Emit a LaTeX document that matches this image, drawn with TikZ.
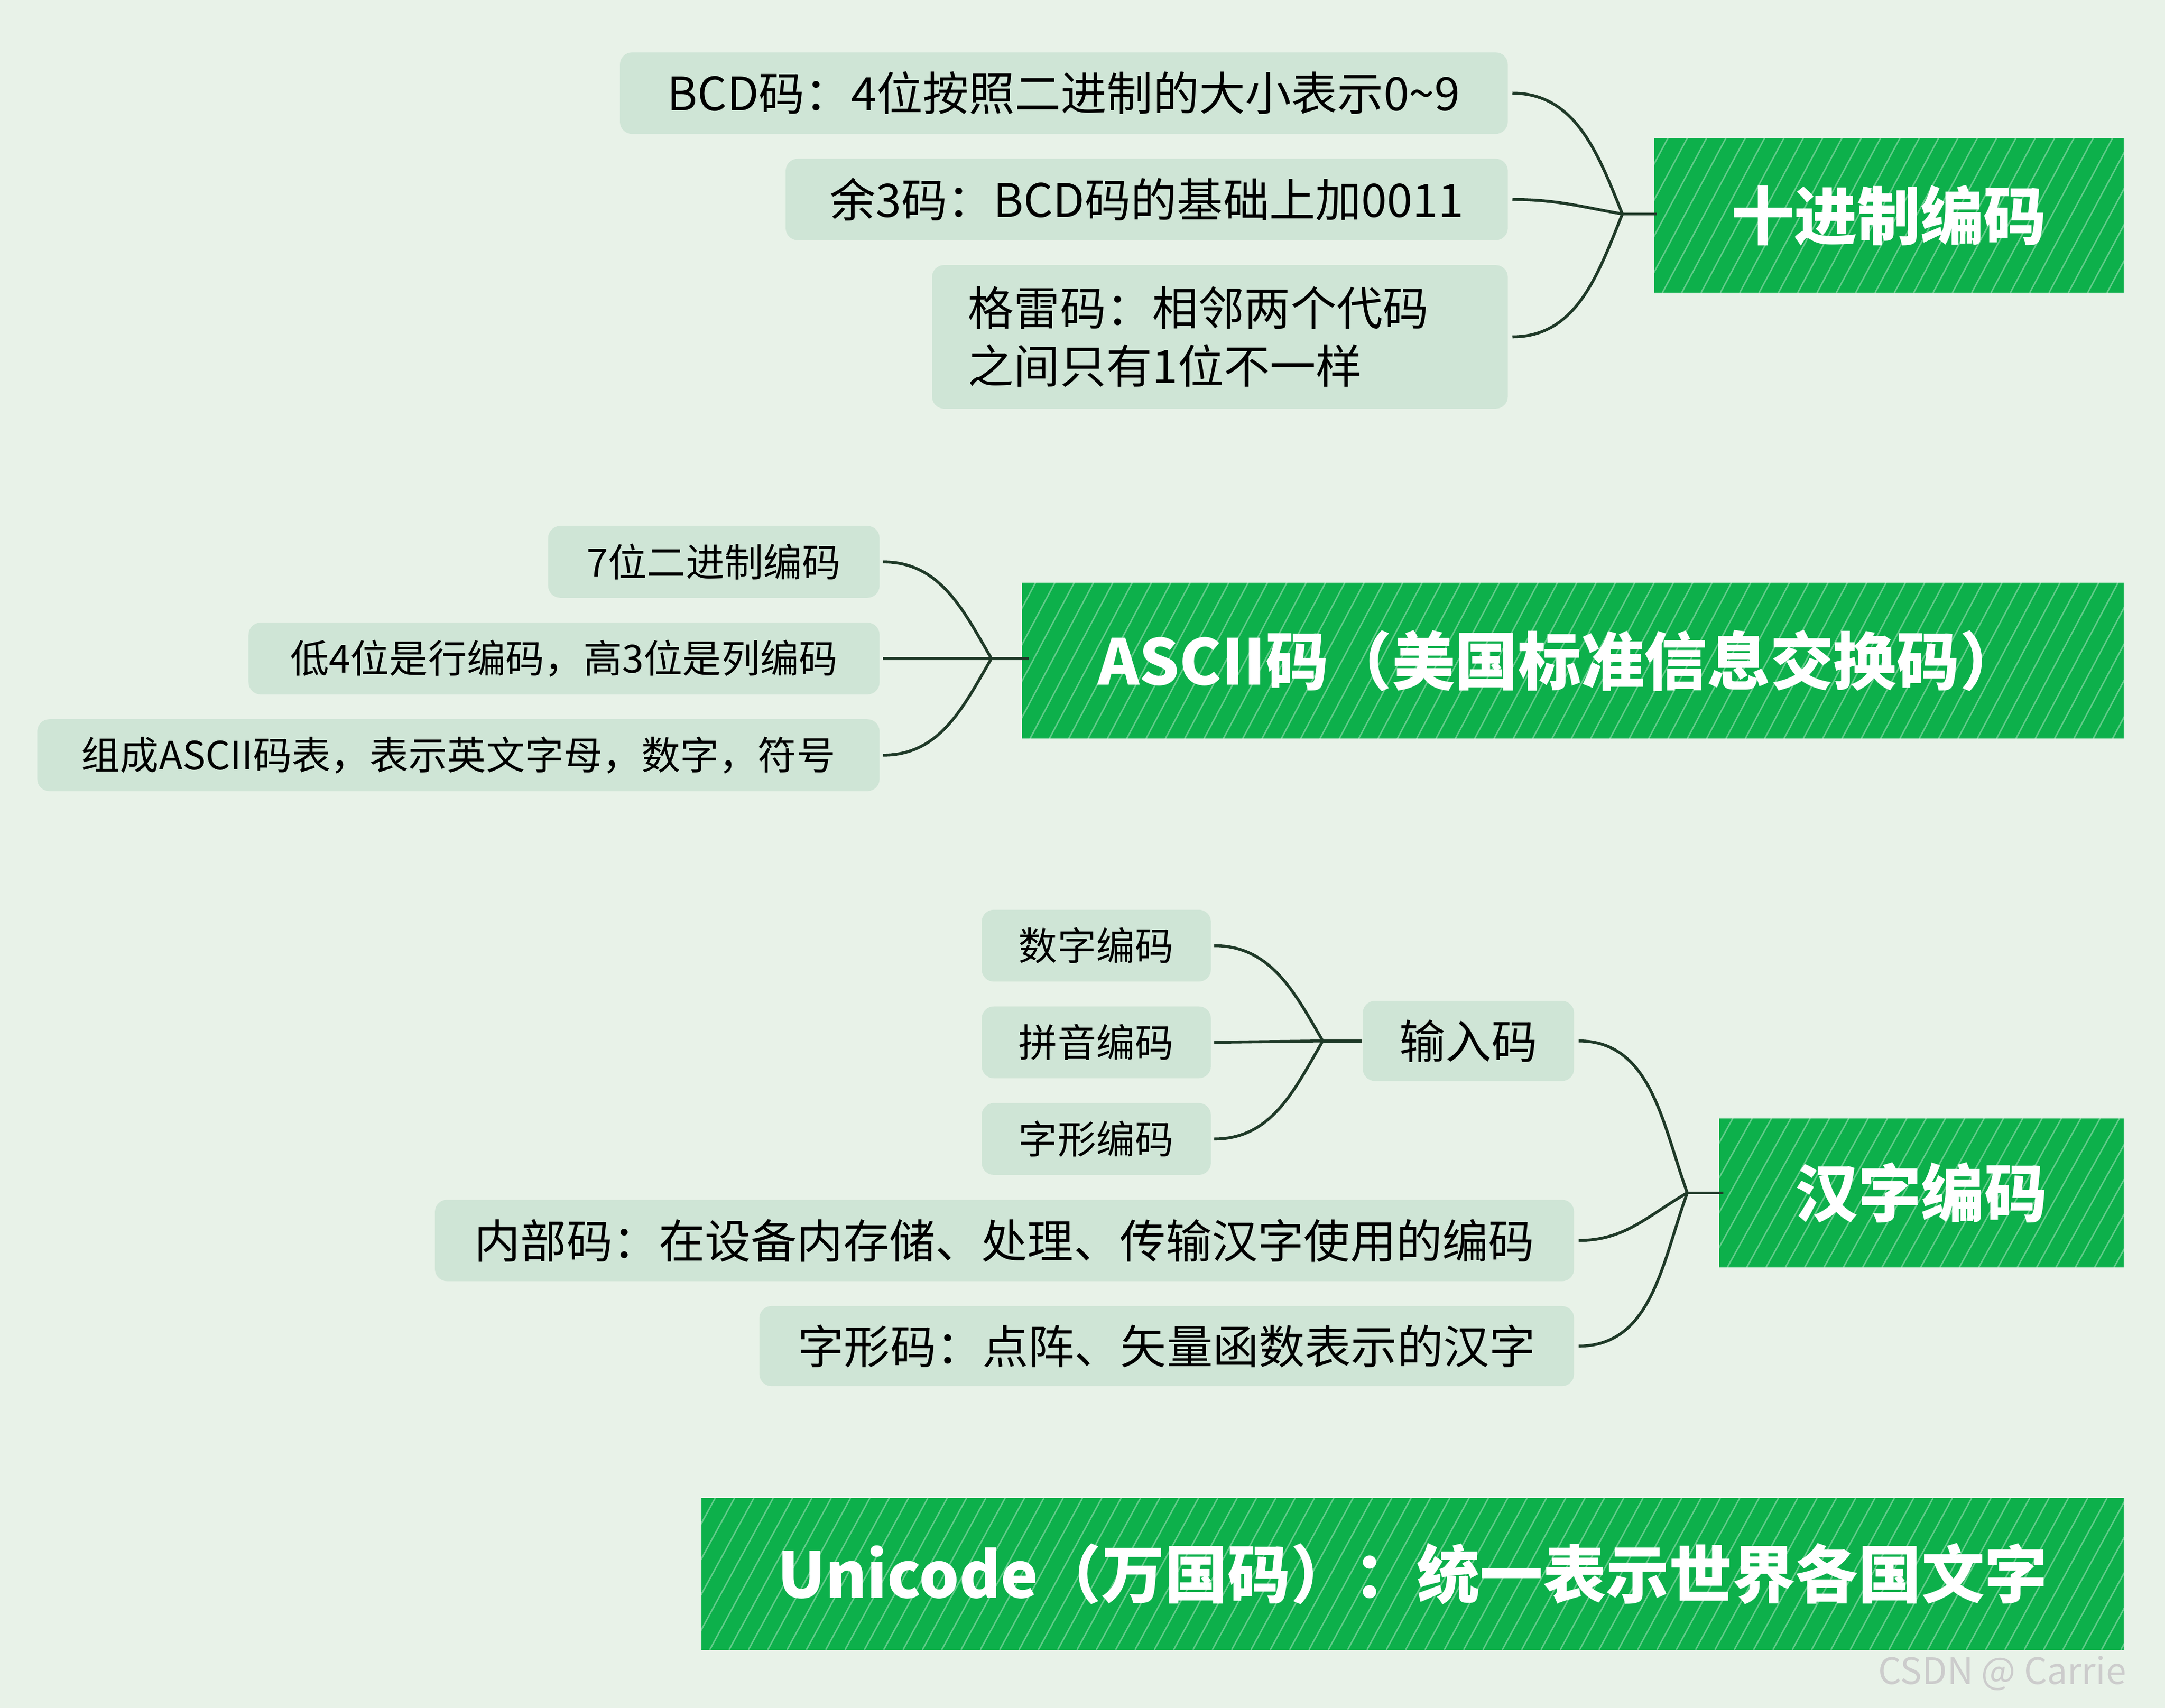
\documentclass[tikz,border=0pt]{standalone}
\usepackage{fontspec}
\setmainfont{Noto Sans CJK SC}
\begin{document}
\begin{tikzpicture}[x=0.02cm,y=0.02cm,
  leaf/.style={fill=leafc,rounded corners=5,inner sep=0pt,font=\fontsize{19pt}{24pt}\selectfont,text=black},
  small/.style={leaf,font=\fontsize{16pt}{20pt}\selectfont},
  sz/.style 2 args={minimum width=#1*0.02cm,minimum height=#2*0.02cm},
  conn/.style={draw=linec,line width=1.2pt},
  title/.style={inner sep=0pt,text=white,font=\fontsize{26pt}{30pt}\selectfont\bfseries}]
\definecolor{bgc}{HTML}{E8F2E8}
\definecolor{leafc}{HTML}{CFE5D6}
\definecolor{greenc}{HTML}{0DB04B}
\definecolor{linec}{HTML}{1F3A28}
\newcommand{\greenbox}[4]{%
  \begin{scope}
  \clip (#1-#3/2,#2-#4/2) rectangle (#1+#3/2,#2+#4/2);
  \fill[greenc] (#1-#3/2,#2-#4/2) rectangle (#1+#3/2,#2+#4/2);
  \foreach \k in {0,14,...,1200}{\draw[white,opacity=0.35,line width=0.6pt] (#1-#3/2-120+\k,#2-#4/2) -- (#1-#3/2-60+\k,#2+#4/2);}
  \end{scope}}
\fill[bgc] (0,0) rectangle (1568,1237);
\useasboundingbox (0,0) rectangle (1568,1237);
% decimal
\node[leaf,sz={643}{59}] (b1) at (770.5,1169.5) {BCD码：4位按照二进制的大小表示0\textasciitilde9};
\node[leaf,sz={523}{59}] (b2) at (830.5,1092.5) {余3码：BCD码的基础上加0011};
\node[leaf,sz={417}{104},align=left,text width=365*0.02cm] (b3) at (883.5,993) {格雷码：相邻两个代码\\之间只有1位不一样};
\greenbox{1368}{1081}{340}{112}
\node[title] (dec) at (1368,1081) {十进制编码};
\coordinate (J1) at (1175,1082);
\draw[conn] ([xshift=0.06cm]b1.east) to[out=0,in=112] (J1);
\draw[conn] ([xshift=0.06cm]b2.east) to[out=0,in=170] (J1);
\draw[conn] ([xshift=0.06cm]b3.east) to[out=0,in=248] (J1);
\draw[conn] (J1) -- (1200,1082);
% ascii
\node[small,sz={240}{52}] (a1) at (517,830) {7位二进制编码};
\node[small,sz={457}{52}] (a2) at (408.5,760) {低4位是行编码，高3位是列编码};
\node[small,sz={610}{52}] (a3) at (332,690) {组成ASCII码表，表示英文字母，数字，符号};
\greenbox{1139}{758.5}{798}{113}
\node[title] (asc) at (1130,758.5) {ASCII码（美国标准信息交换码）};
\coordinate (J2) at (718,760);
\draw[conn] ([xshift=0.04cm]a1.east) to[out=0,in=120] (J2);
\draw[conn] ([xshift=0.04cm]a2.east) -- (J2);
\draw[conn] ([xshift=0.04cm]a3.east) to[out=0,in=240] (J2);
\draw[conn] (J2) -- (745,760);
% hanzi
\node[small,sz={166}{52}] (h1) at (794,552) {数字编码};
\node[small,sz={166}{52}] (h2) at (794,482) {拼音编码};
\node[small,sz={166}{52}] (h3) at (794,412) {字形编码};
\node[leaf,sz={153}{58}] (in) at (1063.5,483) {输入码};
\coordinate (J3) at (958,483);
\draw[conn] ([xshift=0.04cm]h1.east) to[out=0,in=120] (J3);
\draw[conn] ([xshift=0.04cm]h2.east) -- (J3);
\draw[conn] ([xshift=0.04cm]h3.east) to[out=0,in=240] (J3);
\draw[conn] (J3) -- (in.west);
\node[leaf,sz={825}{59}] (nb) at (727.5,338.5) {内部码：在设备内存储、处理、传输汉字使用的编码};
\node[leaf,sz={590}{58}] (zx) at (845,262) {字形码：点阵、矢量函数表示的汉字};
\greenbox{1391.5}{373}{293}{108}
\node[title] (hz) at (1391.5,373) {汉字编码};
\coordinate (J4) at (1222,373);
\draw[conn] ([xshift=0.06cm]in.east) to[out=0,in=110] (J4);
\draw[conn] ([xshift=0.06cm]nb.east) to[out=0,in=210] (J4);
\draw[conn] ([xshift=0.06cm]zx.east) to[out=0,in=250] (J4);
\draw[conn] (J4) -- (1248,373);
% unicode
\greenbox{1023}{97}{1030}{110}
\node[title] (uni) at (1023,97) {Unicode（万国码）：统一表示世界各国文字};
\node[text=gray!40,font=\fontsize{15pt}{18pt}\selectfont] (wm) at (1450,25) {CSDN @ Carrie};
\end{tikzpicture}
\end{document}
